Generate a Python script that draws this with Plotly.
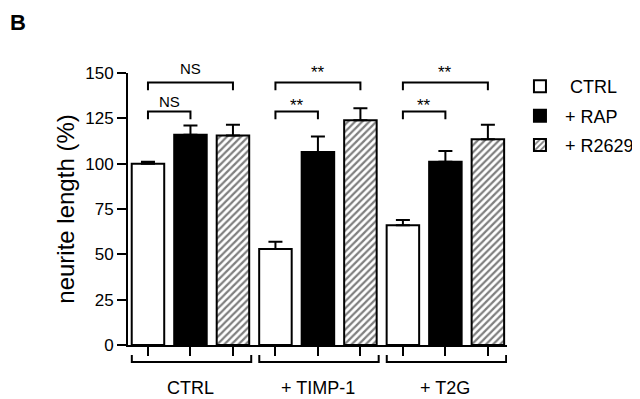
import plotly.graph_objects as go

# ---- data ----
groups = ["CTRL", "+ TIMP-1", "+ T2G"]
series_names = ["\u00a0CTRL", "+ RAP", "+ R2629"]
ctrl_mean = [100, 53, 66]
ctrl_err = [1, 4, 3]
rap_mean = [116, 106.5, 101]
rap_err = [5, 8.5, 6]
r2629_mean = [115.5, 124, 113.5]
r2629_err = [6, 6.5, 8]
sig_pair = ["NS", "**", "**"]      # condition alone vs +RAP
sig_wide = ["NS", "**", "**"]      # condition alone vs +R2629
y_ticks = [0, 25, 50, 75, 100, 125, 150]

FONT = "Liberation Sans, Arial, sans-serif"
n_series = 3
n_groups = len(groups)

# page body has an 8px margin: figure is sized to fill the remaining window
W, H = 632, 391
ML, MR, MT, MB = 120, 133, 65, 54
PW, PH = W - ML - MR, H - MT - MB

means = [ctrl_mean, rap_mean, r2629_mean]
errs = [ctrl_err, rap_err, r2629_err]
fills = ["white", "black", "white"]
patterns = [None, None, dict(shape="/", fgcolor="black", bgcolor="white", size=5, solidity=0.45)]

fig = go.Figure()
for s in range(n_series):
    xs = [g * n_series + s for g in range(n_groups)]
    marker = dict(color=fills[s], line=dict(color="black", width=2))
    if patterns[s]:
        marker["pattern"] = patterns[s]
    fig.add_trace(go.Bar(
        x=xs, y=means[s], name=series_names[s], width=0.765,
        marker=marker, legendgroup=str(s),
        error_y=dict(type="data", symmetric=False, array=errs[s],
                     arrayminus=[0] * n_groups, color="black", thickness=2, width=7),
    ))

shapes = []
annotations = []
line = dict(color="black", width=2)
low_level, high_level, drop = 128.7, 144.7, 4.2
for g in range(n_groups):
    i0 = g * n_series
    for x1, lvl, lab, ysh in [(i0 + 1, low_level, sig_pair[g], 10), (i0 + 2, high_level, sig_wide[g], 14)]:
        shapes.append(dict(type="path", xref="x", yref="y",
                           path=f"M{i0},{lvl - drop} L{i0},{lvl} L{x1},{lvl} L{x1},{lvl - drop}",
                           line=line))
        is_ns = lab == "NS"
        annotations.append(dict(x=(i0 + x1) / 2, y=lvl, xref="x", yref="y", text=lab,
                                showarrow=False, yanchor="middle",
                                yshift=ysh if is_ns else ysh - 4,
                                font=dict(size=15 if is_ns else 17, family=FONT, color="black")))
    xa, xb = i0 - 0.38, i0 + n_series - 1 + 0.43
    shapes.append(dict(type="path", xref="x", yref="paper",
                       path=f"M{xa},-0.037 L{xa},-0.0625 L{xb},-0.0625 L{xb},-0.037",
                       line=line))
    annotations.append(dict(x=i0 + 1, y=-0.115, xref="x", yref="paper", text=groups[g],
                            showarrow=False, yanchor="top",
                            font=dict(size=18, family=FONT, color="black")))

annotations.append(dict(x=-ML / PW, y=1 + MT / PH, xref="paper", yref="paper",
                        xanchor="left", yanchor="top", text="<b>B</b>", showarrow=False,
                        font=dict(size=22, family=FONT, color="black")))

fig.update_layout(
    width=W, height=H,
    margin=dict(l=ML, r=MR, t=MT, b=MB, autoexpand=False),
    paper_bgcolor="white", plot_bgcolor="white",
    barmode="overlay",
    font=dict(family=FONT, color="black", size=17),
    shapes=shapes, annotations=annotations,
    legend=dict(x=1.021, y=1.018, xanchor="left", yanchor="top", itemwidth=40,
                font=dict(size=18, family=FONT), tracegroupgap=3,
                traceorder="grouped", bgcolor="rgba(0,0,0,0)"),
    showlegend=True,
)
fig.update_xaxes(range=[-0.47, n_groups * n_series - 1 + 0.45], showline=True, linewidth=2,
                 linecolor="black", ticks="outside", ticklen=9, tickwidth=2, tickcolor="black",
                 tickvals=list(range(n_groups * n_series)), showticklabels=False,
                 showgrid=False, zeroline=False)
fig.update_yaxes(range=[0, 150], showline=True, linewidth=2, linecolor="black",
                 ticks="outside", ticklen=9, tickwidth=2, tickcolor="black",
                 tickvals=y_ticks, tickfont=dict(size=17), showgrid=False, zeroline=False,
                 title=dict(text="neurite length (%)", font=dict(size=24), standoff=4))

fig.write_html("out.html")
